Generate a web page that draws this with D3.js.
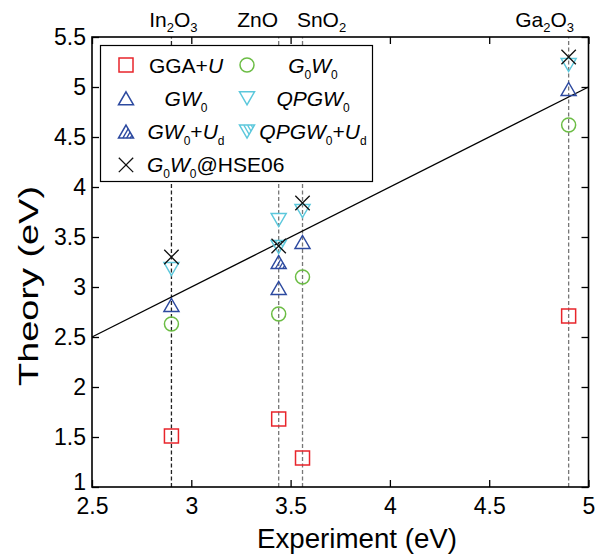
<!DOCTYPE html>
<html>
<head>
<meta charset="utf-8">
<script src="https://cdn.jsdelivr.net/npm/d3@7"></script>
<style>
  body { margin: 0; background: #fff; }
  svg { display: block; }
  text { font-family: "Liberation Sans", Arial, Helvetica, sans-serif; fill: #000; }
</style>
</head>
<body>
<svg id="chart" width="604" height="560"></svg>
<script>
// Band gaps of transparent conducting oxides: experiment vs. theory (eV)
const materials  = ["In2O3", "ZnO", "SnO2", "Ga2O3"];
const experiment = [2.90, 3.44, 3.56, 4.90];

const ggaU     = [1.51, 1.68, 1.29, 2.71];
const g0w0     = [2.63, 2.73, 3.10, 4.62];
const gw0      = [2.82, 2.99, 3.45, 4.98];
const gw0Ud    = [null, 3.25, null, null];
const qpgw0    = [3.18, 3.67, 3.76, 5.22];
const qpgw0Ud  = [null, 3.40, null, null];
const g0w0Hse  = [3.30, 3.41, 3.84, 5.30];

const xTicks = [2.5, 3, 3.5, 4, 4.5, 5];
const yTicks = [1, 1.5, 2, 2.5, 3, 3.5, 4, 4.5, 5, 5.5];
const xDomain = [2.5, 5];
const yDomain = [1, 5.5];

// ---- layout ----
const svg = d3.select("#chart");
const L = 92, R = 588.5, T = 37, B = 487;
const x = d3.scaleLinear().domain(xDomain).range([L, R]);
const y = d3.scaleLinear().domain(yDomain).range([B, T]);

const COL = {
  red: "#e8252b", green: "#6cbd45", blue: "#2d4aa0", cyan: "#5cc8dc", black: "#111"
};

// formula text with subscripts, e.g. In2O3 -> In<sub>2</sub>O<sub>3</sub>
function formulaParts(name) {
  const parts = [];
  for (const m of name.matchAll(/([A-Za-z]+)(\d*)/g)) {
    parts.push({ t: m[1] });
    if (m[2]) parts.push({ t: m[2], sub: true });
  }
  return parts;
}

function writeParts(textSel, parts, mainSize, subSize, subShift) {
  let shifted = false;
  parts.forEach(p => {
    const ts = textSel.append("tspan").text(p.t);
    if (p.sub) {
      ts.attr("font-size", subSize).attr("dy", shifted ? 0 : subShift);
      shifted = true;
    } else {
      ts.attr("font-size", mainSize);
      if (shifted) { ts.attr("dy", -subShift); shifted = false; }
    }
    if (p.it) ts.attr("font-style", "italic");
  });
}

// ---- markers ----
const HW = 7.5, HH = 6.5; // triangle half width / half height

// hatch strokes parallel to the left edge, running from the base to the right edge
function hatchLines(dir) {
  return [-3.2, 0.6, 4.2].map(a => {
    const t = (HW - a) / (2 * HW);
    return [[a, dir * HH], [a + HW * t, dir * (HH - 2 * HH * t)]];
  });
}

function drawMarker(g, type, cx, cy) {
  const m = g.append("g").attr("transform", `translate(${cx},${cy})`);
  const sw = 1.5;
  if (type === "square") {
    m.append("rect").attr("x", -7).attr("y", -7).attr("width", 14).attr("height", 14)
      .attr("fill", "none").attr("stroke", COL.red).attr("stroke-width", sw);
  } else if (type === "circle") {
    m.append("circle").attr("r", 7).attr("fill", "none")
      .attr("stroke", COL.green).attr("stroke-width", sw);
  } else if (type === "up" || type === "upH") {
    m.append("path").attr("d", `M0,${-HH}L${HW},${HH}L${-HW},${HH}Z`)
      .attr("fill", "none").attr("stroke", COL.blue).attr("stroke-width", sw);
    if (type === "upH") {
      hatchLines(1).forEach(l => m.append("line")
        .attr("x1", l[0][0]).attr("y1", l[0][1]).attr("x2", l[1][0]).attr("y2", l[1][1])
        .attr("stroke", COL.blue).attr("stroke-width", 1.3));
    }
  } else if (type === "down" || type === "downH") {
    m.append("path").attr("d", `M0,${HH}L${HW},${-HH}L${-HW},${-HH}Z`)
      .attr("fill", "none").attr("stroke", COL.cyan).attr("stroke-width", sw);
    if (type === "downH") {
      hatchLines(-1).forEach(l => m.append("line")
        .attr("x1", l[0][0]).attr("y1", l[0][1]).attr("x2", l[1][0]).attr("y2", l[1][1])
        .attr("stroke", COL.cyan).attr("stroke-width", 1.3));
    }
  } else if (type === "cross") {
    const s = 7.2;
    m.append("path").attr("d", `M${-s},${-s}L${s},${s}M${-s},${s}L${s},${-s}`)
      .attr("stroke", COL.black).attr("stroke-width", 1.3).attr("fill", "none");
  }
}

// ---- guide lines per material ----
const guides = svg.append("g");
materials.forEach((mat, i) => {
  guides.append("line")
    .attr("x1", x(experiment[i])).attr("x2", x(experiment[i]))
    .attr("y1", y(yDomain[0])).attr("y2", y(yDomain[1]))
    .attr("stroke", i === 0 ? "#222" : "#777")
    .attr("stroke-width", 1.3)
    .attr("stroke-dasharray", "4,2.5");
});

// y = x reference line
svg.append("line")
  .attr("x1", x(xDomain[0])).attr("y1", y(xDomain[0]))
  .attr("x2", x(xDomain[1])).attr("y2", y(xDomain[1]))
  .attr("stroke", "#000").attr("stroke-width", 1.3);

// ---- series ----
const series = [
  { name: "ggaU",    values: ggaU,    type: "square" },
  { name: "g0w0",    values: g0w0,    type: "circle" },
  { name: "gw0",     values: gw0,     type: "up" },
  { name: "gw0Ud",   values: gw0Ud,   type: "upH" },
  { name: "qpgw0",   values: qpgw0,   type: "down" },
  { name: "qpgw0Ud", values: qpgw0Ud, type: "downH" },
  { name: "g0w0Hse", values: g0w0Hse, type: "cross" }
];
const pts = svg.append("g");
series.forEach(s => {
  s.values.forEach((v, i) => {
    if (v == null) return;
    drawMarker(pts, s.type, x(experiment[i]), y(v));
  });
});

// ---- axes ----
const tickFont = 23;
const gx = svg.append("g").attr("transform", `translate(0,${B})`)
  .call(d3.axisBottom(x).tickValues(xTicks).tickFormat(d3.format("~g"))
    .tickSizeInner(-7).tickSizeOuter(0).tickPadding(11));
const gy = svg.append("g").attr("transform", `translate(${L},0)`)
  .call(d3.axisLeft(y).tickValues(yTicks).tickFormat(d3.format("~g"))
    .tickSizeInner(-7).tickSizeOuter(0).tickPadding(6));
const gt = svg.append("g").attr("transform", `translate(0,${T})`)
  .call(d3.axisTop(x).tickValues(xTicks).tickFormat("")
    .tickSizeInner(-7).tickSizeOuter(0));
const gr = svg.append("g").attr("transform", `translate(${R},0)`)
  .call(d3.axisRight(y).tickValues(yTicks).tickFormat("")
    .tickSizeInner(-7).tickSizeOuter(0));
[gx, gy, gt, gr].forEach(g => {
  g.select(".domain").remove();
  g.selectAll(".tick line").attr("stroke", "#000").attr("stroke-width", 1.3);
  g.selectAll("text").attr("font-size", tickFont)
    .attr("font-family", "\"Liberation Sans\", Arial, sans-serif").attr("fill", "#000");
});
// lift the lowest y label so it clears the first x label in the corner
gy.selectAll(".tick").filter(d => d === yDomain[0]).select("text").attr("y", -5);

// frame
svg.append("rect").attr("x", L).attr("y", T).attr("width", R - L).attr("height", B - T)
  .attr("fill", "none").attr("stroke", "#000").attr("stroke-width", 1.6);

// axis titles
svg.append("text").attr("x", 357).attr("y", 548).attr("text-anchor", "middle")
  .attr("font-size", 27).attr("textLength", 200).attr("lengthAdjust", "spacingAndGlyphs")
  .text("Experiment (eV)");
svg.append("text").attr("transform", "translate(38,286) rotate(-90)")
  .attr("text-anchor", "middle").attr("font-size", 27)
  .attr("textLength", 200).attr("lengthAdjust", "spacingAndGlyphs")
  .text("Theory (eV)");

// material names above the frame
const nameShift = [2, -21, 19, -24];
materials.forEach((mat, i) => {
  const t = svg.append("text").attr("x", x(experiment[i]) + nameShift[i]).attr("y", 27)
    .attr("text-anchor", "middle");
  writeParts(t, formulaParts(mat), 21, 13, 5);
});

// ---- legend ----
const lg = svg.append("g");
lg.append("rect").attr("x", 100.5).attr("y", 45.5).attr("width", 272).attr("height", 136)
  .attr("fill", "#fff").attr("stroke", "#000").attr("stroke-width", 1.2);

const legendItems = [
  { type: "square", col: 0, row: 0, parts: [{ t: "GGA+" }, { t: "U", it: true }] },
  { type: "circle", col: 1, row: 0, parts: [{ t: "G", it: true }, { t: "0", sub: true }, { t: "W", it: true }, { t: "0", sub: true }] },
  { type: "up",     col: 0, row: 1, parts: [{ t: "GW", it: true }, { t: "0", sub: true }] },
  { type: "down",   col: 1, row: 1, parts: [{ t: "QPGW", it: true }, { t: "0", sub: true }] },
  { type: "upH",    col: 0, row: 2, parts: [{ t: "GW", it: true }, { t: "0", sub: true }, { t: "+" }, { t: "U", it: true }, { t: "d", sub: true }] },
  { type: "downH",  col: 1, row: 2, parts: [{ t: "QPGW", it: true }, { t: "0", sub: true }, { t: "+" }, { t: "U", it: true }, { t: "d", sub: true }] },
  { type: "cross",  col: 0, row: 3, wide: true, parts: [{ t: "G", it: true }, { t: "0", sub: true }, { t: "W", it: true }, { t: "0", sub: true }, { t: "@HSE06" }] }
];
const markerX = [126, 247], textCenter = [186, 313];
legendItems.forEach(it => {
  const cy = 65 + it.row * 33.3;
  drawMarker(lg, it.type, markerX[it.col], cy);
  const t = lg.append("text").attr("y", cy + 7.5);
  if (it.wide) t.attr("x", 147).attr("text-anchor", "start");
  else t.attr("x", textCenter[it.col]).attr("text-anchor", "middle");
  writeParts(t, it.parts, 21, 12, 6);
});
</script>
</body>
</html>
